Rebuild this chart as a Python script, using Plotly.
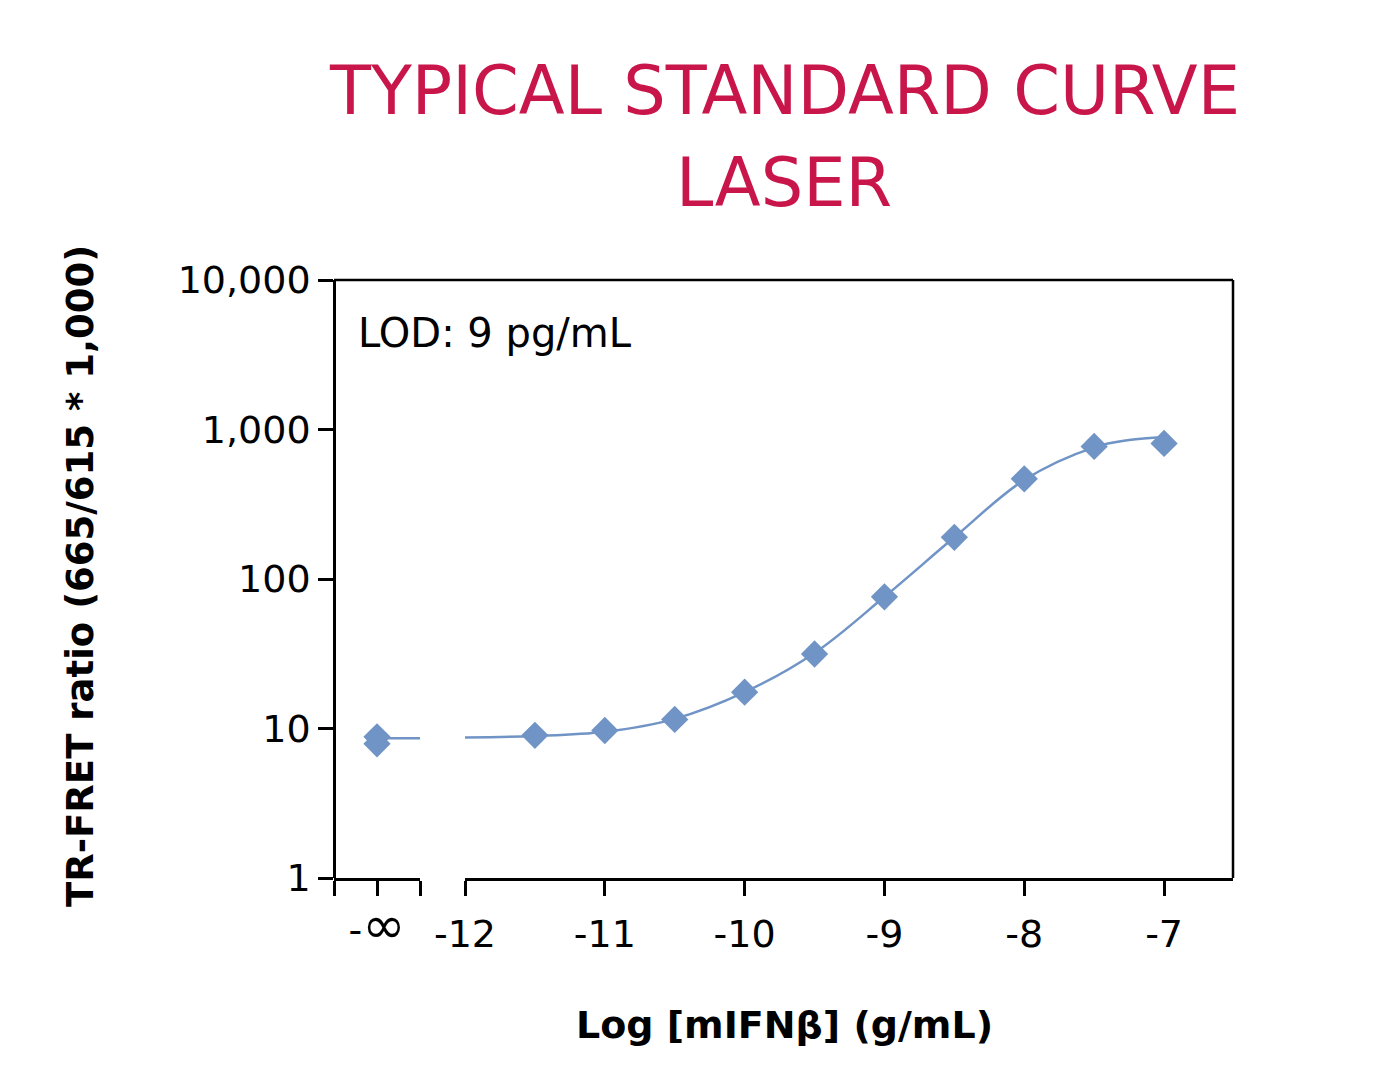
import plotly.graph_objects as go

# ---- data ----
x_points = [-11.5, -11, -10.5, -10, -9.5, -9, -8.5, -8, -7.5, -7]
y_points = [9.0, 9.7, 11.5, 17.5, 31.5, 76, 190, 468, 770, 807]

# blank (-inf) replicates
x_blank = [0, 0]
y_blank = [8.8, 7.9]
blank_line_x = [0, 1]
blank_line_y = [8.6, 8.6]

# fitted curve
curve_x = [-12, -11.5, -11, -10.5, -10, -9.5, -9, -8.5, -8, -7.5, -7.25, -7]
curve_y = [8.7, 8.9, 9.5, 11.6, 17.5, 32, 76, 190, 460, 760, 850, 890]

x_ticks = [-12, -11, -10, -9, -8, -7]
x_tick_text = ["-12", "-11", "-10", "-9", "-8", "-7"]
y_ticks = [1, 10, 100, 1000, 10000]
y_tick_text = ["1", "10", "100", "1,000", "10,000"]

title_lines = ["TYPICAL STANDARD CURVE", "LASER"]
x_title = "Log [mIFNβ] (g/mL)"
y_title = "TR-FRET ratio (665/615 * 1,000)"
lod_text = "LOD: 9 pg/mL"

# ---- style ----
W, H = 1388, 1091
L, R, T, B = 334, 1233, 280, 878
BLUE = "#7094c6"
RED = "#c8164b"
FONT = "DejaVu Sans"
pw, ph = R - L, B - T


def px_x(p):
    return (p - L) / pw


def px_y(p):
    return (B - p) / ph


fig = go.Figure()

fig.add_trace(go.Scatter(x=curve_x, y=curve_y, mode="lines",
                         line=dict(color=BLUE, width=2.5, shape="spline", smoothing=1.0),
                         xaxis="x", yaxis="y", showlegend=False, hoverinfo="skip"))
fig.add_trace(go.Scatter(x=x_points, y=y_points, mode="markers",
                         marker=dict(symbol="diamond", size=21, color=BLUE),
                         xaxis="x", yaxis="y", showlegend=False))
fig.add_trace(go.Scatter(x=blank_line_x, y=blank_line_y, mode="lines",
                         line=dict(color=BLUE, width=2.5),
                         xaxis="x2", yaxis="y", showlegend=False, hoverinfo="skip"))
fig.add_trace(go.Scatter(x=x_blank, y=y_blank, mode="markers",
                         marker=dict(symbol="diamond", size=21, color=BLUE),
                         xaxis="x2", yaxis="y", showlegend=False))

axis_common = dict(showline=True, linecolor="black", linewidth=2.5, ticks="outside",
                   ticklen=15, tickwidth=2.5, tickcolor="black", showgrid=False,
                   zeroline=False, tickfont=dict(family=FONT, size=38, color="black"))

fig.update_layout(
    width=W, height=H, autosize=False,
    margin=dict(l=L, r=W - R, t=T, b=H - B, pad=0),
    paper_bgcolor="white", plot_bgcolor="white",
    xaxis=dict(domain=[px_x(465), 1], range=[-12, -6.507], tickvals=x_ticks,
               ticktext=x_tick_text, anchor="y", ticklabelstandoff=6, **axis_common),
    xaxis2=dict(domain=[0, px_x(420)], range=[-1, 1], tickvals=[-1, 0, 1],
                ticktext=["", "-<span style='font-size:52px'>∞</span>", ""],
                anchor="y", ticklabelstandoff=2, **axis_common),
    yaxis=dict(type="log", range=[0, 4], tickvals=y_ticks, ticktext=y_tick_text,
               anchor="free", position=0, **axis_common),
    shapes=[
        dict(type="line", xref="paper", yref="paper", x0=0, x1=1, y0=1, y1=1,
             line=dict(color="black", width=2.5)),
        dict(type="line", xref="paper", yref="paper", x0=1, x1=1, y0=0, y1=1,
             line=dict(color="black", width=2.5)),
    ],
    annotations=[
        dict(text=title_lines[0], xref="paper", yref="paper", x=px_x(784), y=px_y(91),
             xanchor="center", yanchor="middle", showarrow=False,
             font=dict(family=FONT, size=67, color=RED)),
        dict(text=title_lines[1], xref="paper", yref="paper", x=px_x(784), y=px_y(183),
             xanchor="center", yanchor="middle", showarrow=False,
             font=dict(family=FONT, size=67, color=RED)),
        dict(text=x_title, xref="paper", yref="paper", x=px_x(784), y=px_y(1025),
             xanchor="center", yanchor="middle", showarrow=False,
             font=dict(family=FONT, size=38, color="black", weight="bold")),
        dict(text=y_title, xref="paper", yref="paper", x=px_x(80), y=px_y(576),
             xanchor="center", yanchor="middle", showarrow=False, textangle=-90,
             font=dict(family=FONT, size=37, color="black", weight="bold")),
        dict(text=lod_text, xref="paper", yref="paper", x=px_x(356), y=px_y(333),
             xanchor="left", yanchor="middle", showarrow=False,
             font=dict(family=FONT, size=40, color="black")),
    ],
)

fig.write_html("out.html")
